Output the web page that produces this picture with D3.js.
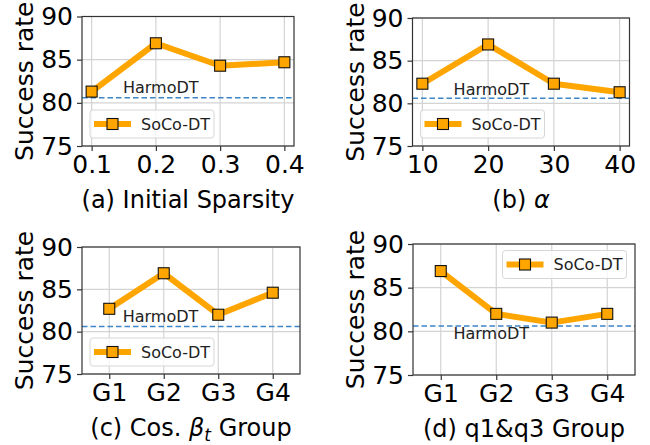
<!DOCTYPE html>
<html>
<head>
<meta charset="utf-8">
<script src="https://cdn.jsdelivr.net/npm/d3@7"></script>
<style>
	body { margin: 0; background: #fff; }
	text { font-family: "DejaVu Sans", sans-serif; fill: #000; }
</style>
</head>
<body>
<svg id="chart"></svg>
<script>
'use strict'

// values
var sparsity = [0.1, 0.2, 0.3, 0.4];
var sparsityRate = [81.3, 86.9, 84.3, 84.7];

var alphas = [10, 20, 30, 40];
var alphaRate = [82.3, 86.9, 82.3, 81.3];

var groups = ["G1", "G2", "G3", "G4"];
var cosRate = [82.7, 86.9, 82.0, 84.6];
var q13Rate = [86.9, 82.0, 81.0, 82.0];

var harmoDT = 80.6;
var yTicks = [75, 80, 85, 90];

var WIDTH = 650,
	HEIGHT = 445;

var orange = '#ffa500',
	gridColor = '#d3d3d3',
	spineColor = '#333',
	dashColor = '#3d85c6';

var svg = d3.select('#chart')
	.attr('width', WIDTH)
	.attr('height', HEIGHT);

var panels = [
	{
		box: [82, 294, 16.5, 146], xDomain: [0.085, 0.415],
		xs: sparsity, ys: sparsityRate, fmt: d3.format('.1f'),
		caption: [['(a) Initial Sparsity']],
		legend: 'lowerleft', harmoAt: [0.2076, 81.1]
	},
	{
		box: [412.5, 629.5, 18, 146], xDomain: [8.5, 41.5],
		xs: alphas, ys: alphaRate, fmt: d3.format('d'),
		caption: [['(b) '], ['α', 'it']],
		legend: 'lowerleft', harmoAt: [20.5, 81.0]
	},
	{
		box: [82, 300, 247, 374], xDomain: [-0.5, 3.5],
		xs: [0, 1, 2, 3], ys: cosRate, fmt: function (i) { return groups[i]; },
		caption: [['(c) Cos. '], ['β', 'it'], ['t', 'sub'], [' Group']],
		legend: 'lowerleft', harmoAt: [0.94, 81.1]
	},
	{
		box: [413, 635, 244, 375], xDomain: [-0.5, 3.5],
		xs: [0, 1, 2, 3], ys: q13Rate, fmt: function (i) { return groups[i]; },
		caption: [['(d) q1&q3 Group']],
		legend: 'upperright', harmoAt: [0.91, 79.1]
	}
];

panels.forEach(function (p) {
	var left = p.box[0], right = p.box[1], top = p.box[2], bottom = p.box[3];
	var g = svg.append('g');

	var x = d3.scaleLinear().domain(p.xDomain).range([left, right]);
	var y = d3.scaleLinear().domain([75, 90]).range([bottom, top]);

	// grid
	g.selectAll('.vgrid')
		.data(p.xs)
		.enter()
		.append('line')
		.attr('x1', function (d) { return x(d); })
		.attr('x2', function (d) { return x(d); })
		.attr('y1', top)
		.attr('y2', bottom)
		.style('stroke', gridColor)
		.style('stroke-width', 1.2);

	g.selectAll('.hgrid')
		.data(yTicks)
		.enter()
		.append('line')
		.attr('x1', left)
		.attr('x2', right)
		.attr('y1', function (d) { return y(d); })
		.attr('y2', function (d) { return y(d); })
		.style('stroke', gridColor)
		.style('stroke-width', 1.2);

	// HarmoDT baseline
	g.append('line')
		.attr('x1', left)
		.attr('x2', right)
		.attr('y1', y(harmoDT))
		.attr('y2', y(harmoDT))
		.style('stroke', dashColor)
		.style('stroke-width', 1.5)
		.style('stroke-dasharray', '5.5,3');

	g.append('text')
		.attr('x', x(p.harmoAt[0]))
		.attr('y', y(p.harmoAt[1]))
		.attr('text-anchor', 'middle')
		.style('font-size', '16px')
		.style('fill', '#222')
		.text('HarmoDT');

	// SoCo-DT line
	var pts = p.xs.map(function (d, i) { return [d, p.ys[i]]; });
	var line = d3.line()
		.x(function (d) { return x(d[0]); })
		.y(function (d) { return y(d[1]); });

	g.append('path')
		.attr('d', line(pts))
		.style('fill', 'none')
		.style('stroke', orange)
		.style('stroke-width', 6)
		.style('stroke-linejoin', 'round');

	g.selectAll('.mark')
		.data(pts)
		.enter()
		.append('rect')
		.attr('x', function (d) { return x(d[0]) - 5.5; })
		.attr('y', function (d) { return y(d[1]) - 5.5; })
		.attr('width', 11)
		.attr('height', 11)
		.style('fill', orange)
		.style('stroke', '#111')
		.style('stroke-width', 1.1);

	// legend
	var lw = 124, lh = 28;
	var lx = p.legend === 'upperright' ? right - 8.5 - lw : left + 8;
	var ly = p.legend === 'upperright' ? top + 6.5 : bottom - 8 - lh;
	var leg = g.append('g').attr('transform', 'translate(' + lx + ',' + ly + ')');
	leg.append('rect')
		.attr('width', lw)
		.attr('height', lh)
		.attr('rx', 3)
		.style('fill', '#fff')
		.style('fill-opacity', 0.8)
		.style('stroke', '#d6d6d6')
		.style('stroke-width', 1);
	leg.append('line')
		.attr('x1', 4)
		.attr('x2', 41)
		.attr('y1', lh / 2)
		.attr('y2', lh / 2)
		.style('stroke', orange)
		.style('stroke-width', 6);
	leg.append('rect')
		.attr('x', 22.5 - 5.5)
		.attr('y', lh / 2 - 5.5)
		.attr('width', 11)
		.attr('height', 11)
		.style('fill', orange)
		.style('stroke', '#111')
		.style('stroke-width', 1.1);
	leg.append('text')
		.attr('x', 51)
		.attr('y', lh / 2)
		.attr('dy', '0.36em')
		.style('font-size', '16px')
		.style('fill', '#222')
		.text('SoCo-DT');

	// axes
	var xAxis = g.append('g')
		.attr('transform', 'translate(0,' + bottom + ')')
		.call(d3.axisBottom(x).tickValues(p.xs).tickFormat(p.fmt).tickSize(5).tickPadding(4));
	var yAxis = g.append('g')
		.attr('transform', 'translate(' + left + ',0)')
		.call(d3.axisLeft(y).tickValues(yTicks).tickSize(5).tickPadding(4));

	[xAxis, yAxis].forEach(function (a) {
		a.select('.domain').remove();
		a.attr('font-family', null).attr('font-size', null);
		a.selectAll('line').style('stroke', spineColor).style('stroke-width', 1.2);
		a.selectAll('text').style('font-size', '25px').style('fill', '#000');
	});

	// spines
	g.append('rect')
		.attr('x', left)
		.attr('y', top)
		.attr('width', right - left)
		.attr('height', bottom - top)
		.style('fill', 'none')
		.style('stroke', spineColor)
		.style('stroke-width', 1.2);

	// y label
	g.append('text')
		.attr('transform', 'translate(' + (left - 49) + ',' + ((top + bottom) / 2) + ') rotate(-90)')
		.attr('text-anchor', 'middle')
		.style('font-size', '25px')
		.text('Success rate');

	// caption, subscript shifts baseline down then back
	var cap = g.append('text')
		.attr('x', (left + right) / 2)
		.attr('y', bottom + 62)
		.attr('text-anchor', 'middle')
		.style('font-size', '24px');
	var shift = 0;
	p.caption.forEach(function (c) {
		var t = cap.append('tspan').text(c[0]);
		if (c[1] === 'it') t.style('font-style', 'italic');
		if (c[1] === 'sub') {
			t.style('font-style', 'italic')
				.style('font-size', '17px')
				.attr('dy', 5);
			shift = -5;
		} else if (shift) {
			t.attr('dy', shift);
			shift = 0;
		}
	});
});
</script>
</body>
</html>
